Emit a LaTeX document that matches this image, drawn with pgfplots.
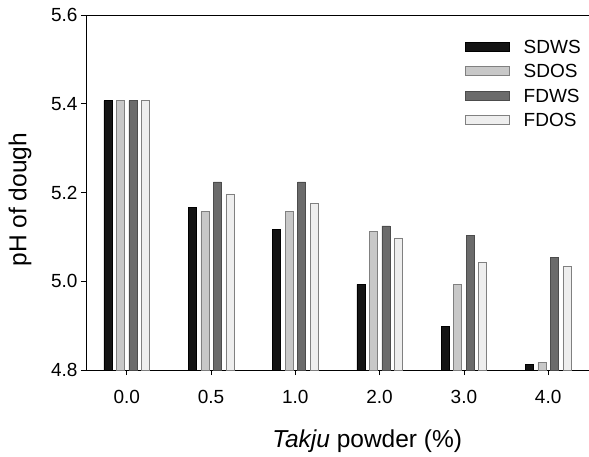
\documentclass[border=0pt]{standalone}
\usepackage{fontspec}
\setmainfont{Liberation Sans}
\usepackage{pgfplots}
\pgfplotsset{compat=1.18}
\definecolor{cSDWS}{HTML}{141414}
\definecolor{cSDOS}{HTML}{C8C8C8}
\definecolor{cFDWS}{HTML}{6B6B6B}
\definecolor{cFDOS}{HTML}{EEEEEE}
\begin{document}
\begin{tikzpicture}
\path[use as bounding box] (-86pt,-86pt) rectangle (503pt,370pt);
\begin{axis}[
  at={(0pt,0pt)}, anchor=south west,
  width=503pt, height=355pt, scale only axis,
  xmin=-0.483, xmax=5.484,
  ymin=4.8, ymax=5.6,
  axis x line=box, axis y line=left,
  axis line style={-, line width=0.8pt, black},
  xtick pos=bottom, ytick pos=left,
  xtick={0,1,2,3,4,5},
  xticklabels={0.0,0.5,1.0,2.0,3.0,4.0},
  ytick={4.8,5.0,5.2,5.4,5.6},
  tick align=outside, major tick length=5pt,
  tick style={line width=0.8pt, black},
  /pgf/number format/assume math mode=true,
  yticklabel style={/pgf/number format/fixed, /pgf/number format/fixed zerofill, /pgf/number format/precision=1},
  xticklabel style={yshift=-12pt},
  tick label style={font=\fontsize{19}{22}\selectfont},
  xlabel={\textit{Takju} powder (\%)},
  ylabel={pH of dough},
  label style={font=\fontsize{24.5}{28}\selectfont},
  xlabel style={at={(axis description cs:0.559,-0.217)}, anchor=base},
  ylabel style={at={(axis description cs:-0.131,0.48)}, anchor=center},
  ybar, bar width=8pt,
  legend image code/.code={\draw[#1] (0pt,-4.5pt) rectangle (44pt,4.5pt);},
  legend style={draw=none, fill=none, at={(axis description cs:0.7535,0.937)}, anchor=north west,
    inner sep=0pt, row sep=7pt, font=\fontsize{19}{20}\selectfont,
    nodes={inner sep=2pt, text height=13.5pt, text depth=0pt},
    /tikz/every odd column/.append style={column sep=12pt}},
  legend cell align=left,
  clip=true,
]
\addplot[fill=cSDWS, draw=black, line width=0.5pt, bar shift=-18.75pt] coordinates {(0,5.407) (1,5.167) (2,5.117) (3,4.993) (4,4.899) (5,4.813)};
\addplot[fill=cSDOS, draw=gray, line width=0.5pt, bar shift=-6.25pt] coordinates {(0,5.407) (1,5.157) (2,5.157) (3,5.112) (4,4.993) (5,4.817)};
\addplot[fill=cFDWS, draw=black!70, line width=0.5pt, bar shift=6.25pt] coordinates {(0,5.407) (1,5.224) (2,5.224) (3,5.125) (4,5.103) (5,5.053)};
\addplot[fill=cFDOS, draw=gray, line width=0.5pt, bar shift=18.75pt] coordinates {(0,5.407) (1,5.197) (2,5.176) (3,5.098) (4,5.043) (5,5.033)};
\legend{SDWS,SDOS,FDWS,FDOS}
\end{axis}
\end{tikzpicture}
\end{document}
